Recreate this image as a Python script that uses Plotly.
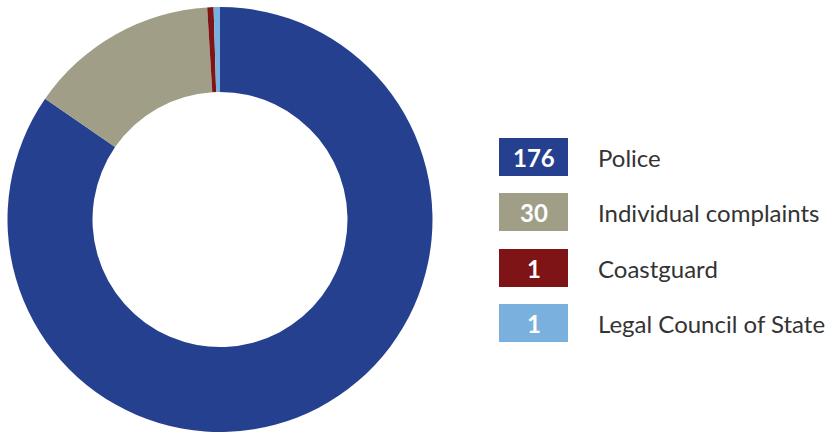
import plotly.graph_objects as go

labels = ["Police", "Individual complaints", "Coastguard", "Legal Council of State"]
values = [176, 30, 1, 1]
colors = ["#25408F", "#A09E87", "#7E1416", "#7AB0DE"]

W, H = 828, 433

fig = go.Figure(go.Pie(
    labels=labels, values=values, hole=0.6, sort=False, direction="clockwise",
    rotation=0, marker=dict(colors=colors, line=dict(width=0)),
    textinfo="none", hoverinfo="label+value", showlegend=False,
    domain=dict(x=[7 / W, 433 / W], y=[1 - 432 / H, 1 - 7 / H]),
))

shapes = []
annotations = []
box_x0, box_x1 = 499, 568
tops = [138, 193, 249, 304]
bh = 38
for lab, val, col, t in zip(labels, values, colors, tops):
    shapes.append(dict(type="rect", xref="paper", yref="paper",
                       x0=box_x0 / W, x1=box_x1 / W, y0=1 - (t + bh) / H, y1=1 - t / H,
                       fillcolor=col, line=dict(width=0)))
    yc = 1 - (t + bh / 2) / H
    annotations.append(dict(x=(box_x0 + box_x1) / 2 / W, y=yc, xref="paper", yref="paper",
                            text=f"<b>{val}</b>", showarrow=False,
                            font=dict(family="Lato", size=24, color="white"),
                            xanchor="center", yanchor="middle"))
    annotations.append(dict(x=596 / W, y=yc, xref="paper", yref="paper",
                            text=lab, showarrow=False,
                            font=dict(family="Lato", size=24, color="#333333"),
                            xanchor="left", yanchor="middle"))

fig.update_layout(width=W, height=H, margin=dict(l=0, r=0, t=0, b=0),
                  paper_bgcolor="white", plot_bgcolor="white",
                  shapes=shapes, annotations=annotations)
fig.write_html("out.html")
